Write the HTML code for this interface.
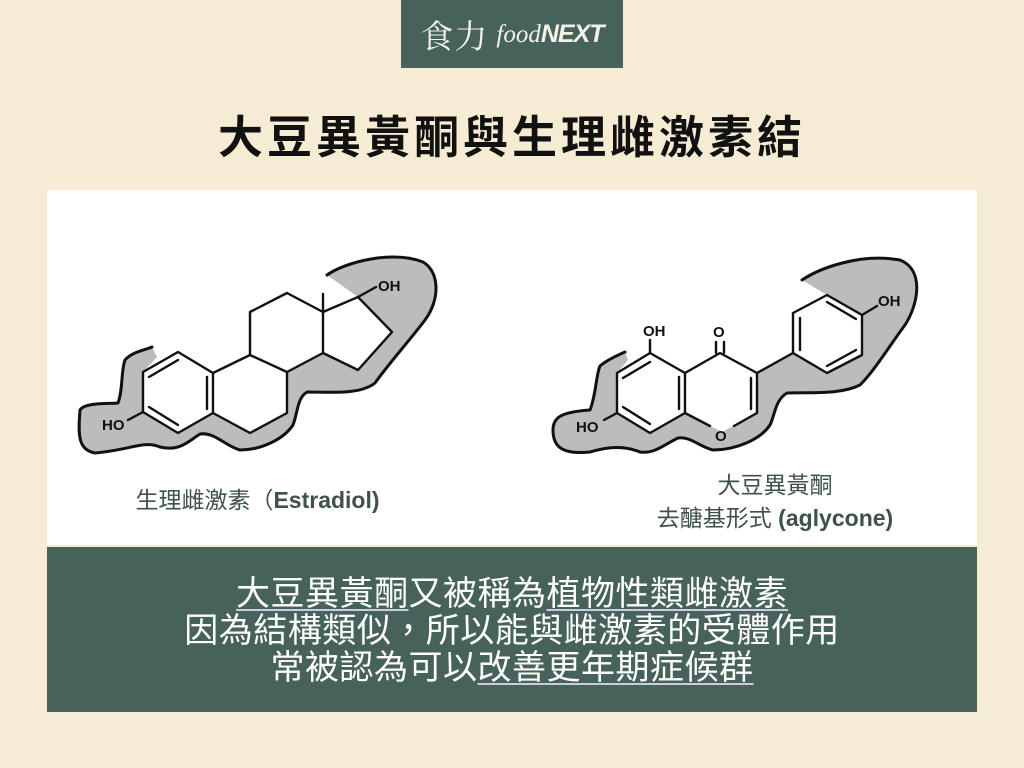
<!DOCTYPE html>
<html><head><meta charset="utf-8"><style>
html,body{margin:0;padding:0}
body{width:1024px;height:768px;background:#f6ecd3;position:relative;overflow:hidden;font-family:"Liberation Sans","Noto Sans CJK TC",sans-serif}
.hdr{position:absolute;left:401px;top:0;width:222px;height:68px;background:#46625a;color:#f4f1e8;display:flex;align-items:center;justify-content:center}
.hdr .cn{font-family:"Noto Serif CJK SC",serif;font-size:33px;letter-spacing:1px}
.hdr .en{font-family:"Liberation Serif",serif;font-style:italic;font-size:25px;margin-left:8px}
.hdr .en b{font-family:"Liberation Sans",sans-serif;font-style:italic;font-weight:bold;letter-spacing:-1px}
.title{position:absolute;left:0;width:1024px;top:111px;text-align:center;font-size:45px;font-weight:bold;letter-spacing:4px;color:#111;line-height:54px}
.panel{position:absolute;left:47px;top:190px;width:930px;height:355px;background:#fff}
.lab{position:absolute;color:#3e5249;font-size:23px;text-align:center;line-height:33px}
.bot{position:absolute;left:47px;top:547px;width:930px;height:165px;background:#46625a;color:#fff;text-align:center;font-size:34px;line-height:37px;letter-spacing:0.5px;padding-top:29px;box-sizing:border-box}
.bot u{text-decoration-thickness:2px;text-underline-offset:4px;text-decoration-color:#ccd}
</style></head><body>
<div class="hdr"><span class="cn">食力</span><span class="en">food<b>NEXT</b></span></div>
<div class="title">大豆異黃酮與生理雌激素結</div>
<div class="panel"></div>
<svg width="1024" height="768" style="position:absolute;left:0;top:0" font-family="Liberation Sans, sans-serif">
<g stroke="none" fill="#bcbcbc">
<path d="M327,275 C345,262 393,250 423,262 C440,272 440,300 425,320 C410,340 390,362 375,383 C360,395 330,392 307,392 C297,398 298,412 293,425 C283,440 260,450 240,450 C225,446 215,432 200,434 C190,440 180,452 160,447 C145,440 130,450 95,453 C78,450 78,435 80,410 C85,402 110,404 118,403 C123,390 121,370 125,360 C132,352 145,350 152,347 L157,357 143,372 143,412 178,433 213,413 250,433 287,413 287,372 323,353 358,370 392,332 358,297 Z"/>
<path d="M802,280 C820,268 860,253 900,260 C925,270 918,305 905,325 C890,345 875,370 860,385 C840,395 810,392 787,393 C775,400 775,415 770,425 C760,440 735,450 713,450 C700,447 690,436 678,438 C665,444 655,454 640,452 C625,446 610,446 590,452 C560,455 553,445 553,430 C553,418 560,412 590,410 C596,395 596,375 600,366 C607,360 618,355 625,352 L628,360 617,373 617,413 650,433 685,413 722,432 757,413 757,373 793,353 827,373 862,355 862,315 827,295 Z"/>
</g>
<g fill="none" stroke="#111" stroke-width="3" stroke-linejoin="round" stroke-linecap="round">
<path d="M327,275 C345,262 393,250 423,262 C440,272 440,300 425,320 C410,340 390,362 375,383 C360,395 330,392 307,392 C297,398 298,412 293,425 C283,440 260,450 240,450 C225,446 215,432 200,434 C190,440 180,452 160,447 C145,440 130,450 95,453 C78,450 78,435 80,410 C85,402 110,404 118,403 C123,390 121,370 125,360 C132,352 145,350 152,347"/>
<path d="M802,280 C820,268 860,253 900,260 C925,270 918,305 905,325 C890,345 875,370 860,385 C840,395 810,392 787,393 C775,400 775,415 770,425 C760,440 735,450 713,450 C700,447 690,436 678,438 C665,444 655,454 640,452 C625,446 610,446 590,452 C560,455 553,445 553,430 C553,418 560,412 590,410 C596,395 596,375 600,366 C607,360 618,355 625,352"/>
</g>
<g fill="none" stroke="#111" stroke-width="2.4" stroke-linejoin="round" stroke-linecap="round">
<path d="M178,352 L213,373 L213,413 L178,433 L143,412 L143,372 Z"/>
<path d="M149,377 L178,360 M207,377 L207,409 M149,407 L178,425"/>
<path d="M213,373 L250,355 L287,372 L287,413 L250,433 L213,413"/>
<path d="M250,355 L250,312 L287,293 L323,312 L323,353 L287,372"/>
<path d="M323,312 L358,297 L392,332 L358,370 L323,353"/>
<path d="M323,312 L323,294 M358,297 L376,287 M143,412 L128,420"/>
<path d="M650,353 L685,373 L685,413 L650,433 L617,413 L617,373 Z"/>
<path d="M623,378 L650,362 M679,377 L679,409 M623,407 L650,424"/>
<path d="M685,373 L720,353 L757,373 L757,413 L734,426 M710,426 L685,413"/>
<path d="M751,378 L751,409"/>
<path d="M716,353 L716,342 M724,353 L724,342"/>
<path d="M650,353 L650,340 M617,413 L604,420 M757,373 L793,353"/>
<path d="M793,353 L793,313 L827,295 L862,315 L862,355 L827,373 Z"/>
<path d="M800,318 L800,350 M827,302 L856,319 M827,366 L856,350"/>
<path d="M862,315 L877,306"/>
</g>
<g fill="#111" font-size="15" font-weight="bold">
<text x="378" y="291">OH</text>
<text x="102" y="430">HO</text>
<text x="643" y="336">OH</text>
<text x="713" y="337">O</text>
<text x="715" y="441">O</text>
<text x="576" y="432">HO</text>
<text x="878" y="306">OH</text>
</g>
</svg>
<div class="lab" style="left:80px;top:484px;width:355px">生理雌激素（<b>Estradiol)</b></div>
<div class="lab" style="left:590px;top:469px;width:370px">大豆異黃酮<br>去醣基形式 <b>(aglycone)</b></div>
<div class="bot"><u>大豆異黃酮</u>又被稱為<u>植物性類雌激素</u><br>因為結構類似，所以能與雌激素的受體作用<br>常被認為可以<u>改善更年期症候群</u></div>
</body></html>
